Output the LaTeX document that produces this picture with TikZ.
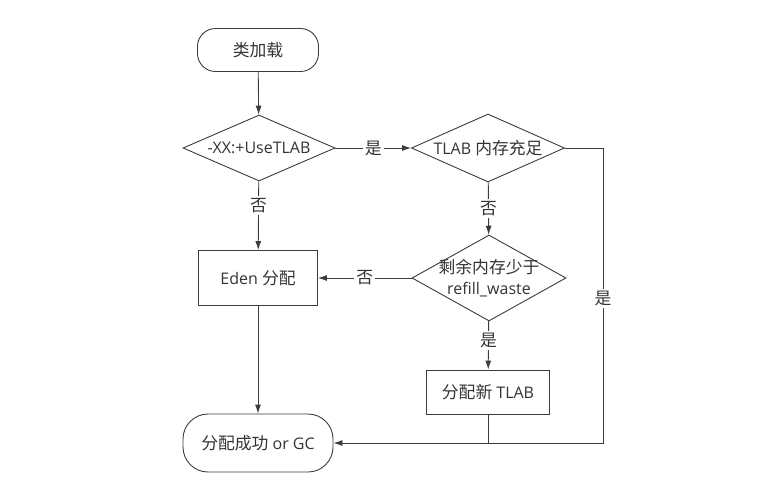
\documentclass[tikz,border=0pt]{standalone}
\usepackage{fontspec}
\setmainfont{Open Sans}
\newfontfamily\cjk{Noto Sans CJK SC}[Scale=1.05]
\usetikzlibrary{arrows.meta,positioning,shapes.geometric}
\definecolor{linegray}{HTML}{3C3C3C}
\definecolor{textgray}{HTML}{333333}

\begin{document}
\begin{tikzpicture}
		[x=1pt,y=-1pt,line width=0.9pt,
		every node/.style={font=\fontsize{16}{21}\selectfont,text=textgray},
		term/.style={draw=linegray,rounded corners=18pt,minimum width=121pt,minimum height=43pt},
		proc/.style={draw=linegray,rectangle,minimum width=119pt,minimum height=55pt},
		decision/.style={draw=linegray,diamond,aspect=2.3,inner sep=-2pt,minimum width=152pt,minimum height=66pt},
		lbl/.style={fill=white,inner sep=2pt},
		flow/.style={draw=linegray,-{Latex[length=9pt,width=6pt]}}]
		\useasboundingbox (0,0) rectangle (767,499);
		
		\node[term] (start) at (258,50) {\cjk 类加载};
		\node[decision] (usetlab) at (259,148) {-XX:+UseTLAB};
		\node[decision,minimum width=153pt,minimum height=68pt] (enough) at (488,148) {TLAB {\cjk 内存充足}};
		\node[decision,aspect=1.8,inner sep=-5pt,minimum width=154pt,minimum height=86pt,align=center] (waste) at (489,278) {{\cjk 剩余内存少于}\\refill\_waste};
		\node[proc] (eden) at (258,278) {Eden {\cjk 分配}};
		\node[proc,minimum width=123pt,minimum height=44pt] (newtlab) at (488,392) {{\cjk 分配新} TLAB};
		\node[term,rounded corners=25pt,minimum width=150pt,minimum height=58pt] (done) at (258,443) {{\cjk 分配成功} or GC};
		
		\coordinate (corner) at (603,443);
		\coordinate (join) at (newtlab.south |- done.east);
		
		\draw[flow] (start) to (usetlab);
		\draw[flow] (usetlab) to node [lbl] {\cjk 是} (enough);
		\draw[flow] (usetlab) to node [lbl,pos=0.35] {\cjk 否} (eden);
		\draw[flow] (enough) to node [lbl] {\cjk 否} (waste);
		\draw[flow] (waste) to node [lbl] {\cjk 否} (eden);
		\draw[flow] (waste) to node [lbl,pos=0.4] {\cjk 是} (newtlab);
		\draw[flow] (eden) to (done);
		\draw[flow] (enough.east) -| node [lbl,pos=0.755] {\cjk 是} (corner) -- (done.east);
		\draw[draw=linegray] (newtlab) to (join);
\end{tikzpicture}
\end{document}
